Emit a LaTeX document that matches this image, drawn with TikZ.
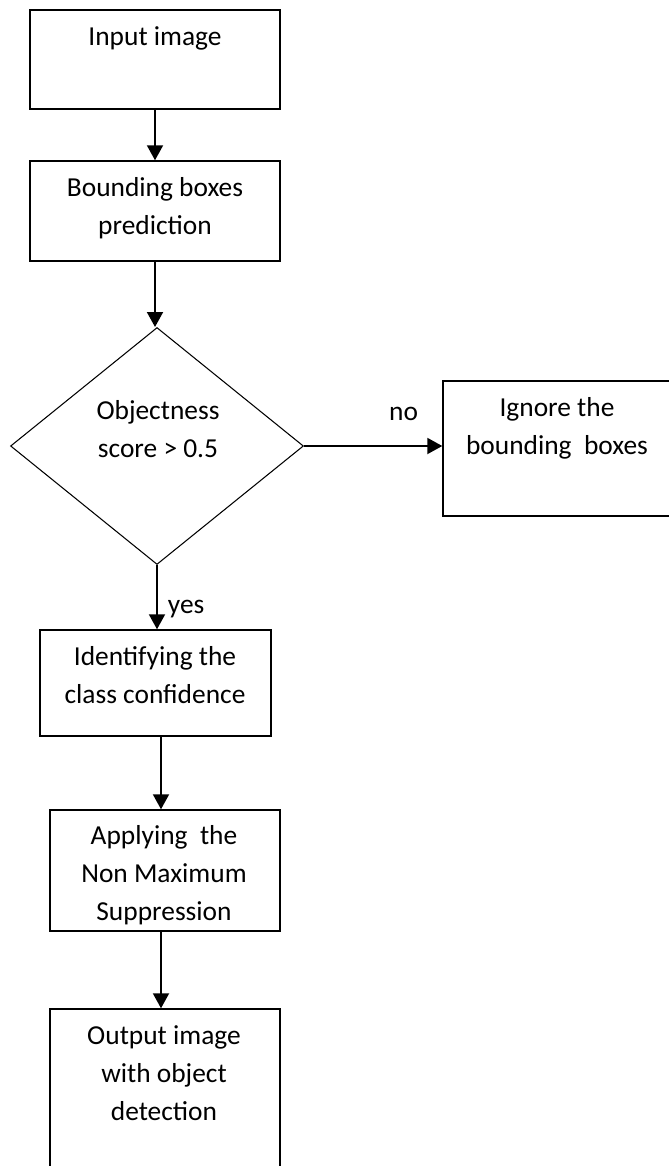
\documentclass[tikz,border=0pt]{standalone}
\usepackage{fontspec}
\setmainfont{Carlito}
\usepackage{tikz}
\usetikzlibrary{shapes.geometric}
\usetikzlibrary{arrows.meta,positioning,calc}

\begin{document}
\begin{tikzpicture}[x=0.02cm,y=-0.02cm,
	box/.style={draw,line width=0.85pt,rectangle,inner sep=0pt},
	dec/.style={draw,line width=0.6pt,diamond,inner sep=0pt,minimum width=5.86cm,minimum height=4.74cm},
	txt/.style={align=center,inner sep=0pt,font=\fontsize{15.6}{21.6}\selectfont},
	arr/.style={line width=1.1pt,-{Triangle[length=0.3cm,width=0.32cm]}}]
	\clip (0,0) rectangle (669,1166);
	\node[box,minimum width=5cm,minimum height=1.98cm] (in) at (155,59.5) {};
	\node[box,minimum width=5cm,minimum height=2cm] (bbox) at (155,211) {};
	\node[dec] (score) at (157,446) {};
	\node[box,minimum width=5.14cm,minimum height=2.7cm] (ignore) at (571.5,448.5) {};
	\node[box,minimum width=4.62cm,minimum height=2.12cm] (ident) at (155.5,683) {};
	\node[box,minimum width=4.6cm,minimum height=2.42cm] (nms) at (165,870.5) {};
	\node[box,minimum width=4.6cm,minimum height=3.62cm] (out) at (165,1099.5) {};
	% texts
	\node[txt] (inT) at (155,38) {Input image};
	\node[txt] (bboxT) at (155,208) {Bounding boxes\\prediction};
	\node[txt] (scoreT) at (158,429) {Objectness\\score > 0.5};
	\node[txt] (ignoreT) at (557,428) {Ignore the\\bounding~ boxes};
	\node[txt] (identT) at (155,675) {Identifying the\\class confidence};
	\node[txt] (nmsT) at (164,875) {Applying~ the\\Non Maximum\\Suppression};
	\node[txt] (outT) at (164,1073) {Output image\\with object\\detection};
	% connectors
	\draw[arr] (in) -- (bbox);
	\draw[arr] (bbox.south) -- (bbox.south |- score.north);
	\draw[arr] (score.east) -- (score.east -| ignore.west) node[txt,pos=0.72,above=0.48cm] (no) {no};
	\draw[arr] (score.south) -- (score.south |- ident.north) node[txt,pos=0.68,right=0.2cm] (yes) {yes};
	\draw[arr] ([xshift=0.11cm]ident.south) -- ([xshift=-0.08cm]nms.north);
	\draw[arr] ([xshift=-0.08cm]nms.south) -- ([xshift=-0.08cm]out.north);
\end{tikzpicture}
\end{document}
